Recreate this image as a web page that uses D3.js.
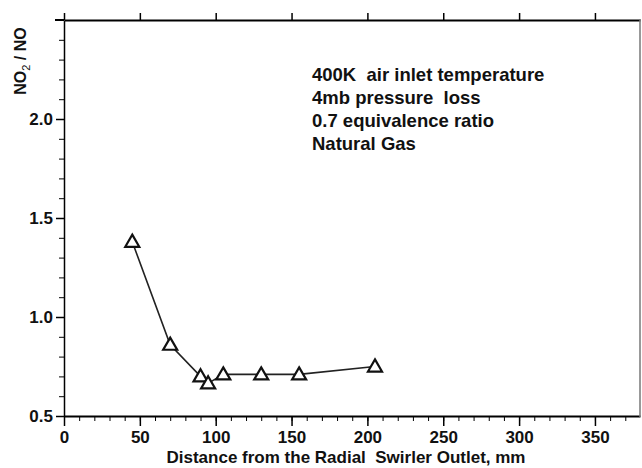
<!DOCTYPE html>
<html>
<head>
<meta charset="utf-8">
<script src="https://cdn.jsdelivr.net/npm/d3@7"></script>
<style>
  body { margin: 0; background: #fff; }
  text { font-family: "Liberation Sans", Arial, sans-serif; font-weight: bold; fill: #111; white-space: pre; }
</style>
</head>
<body>
<svg id="chart" width="642" height="468"></svg>
<script>
// distance from swirler outlet (mm) and NO2/NO ratio
var distance = [45, 70, 90, 95, 105, 130, 155, 205];
var ratio = [1.38, 0.86, 0.70, 0.665, 0.71, 0.71, 0.71, 0.75];
var xTicks = [0, 50, 100, 150, 200, 250, 300, 350];
var yTicks = [0.5, 1.0, 1.5, 2.0];
var notes = ["400K  air inlet temperature", "4mb pressure  loss", "0.7 equivalence ratio", "Natural Gas"];

var svg = d3.select("#chart");

var x = d3.scaleLinear().domain([0, 379.7]).range([64, 640]);
var y = d3.scaleLinear().domain([0.5, 2.5]).range([416, 20]);

// bottom axis, minor then major
svg.append("g")
    .attr("transform", "translate(0,416)")
    .call(d3.axisBottom(x).tickValues(d3.range(0, 380, 10)).tickSize(5).tickFormat(""))
    .call(function(g) { g.select(".domain").remove(); });

svg.append("g")
    .attr("transform", "translate(0,416)")
    .call(d3.axisBottom(x).tickValues(xTicks).tickSize(10).tickSizeOuter(0).tickPadding(5))
    .call(function(g) {
      g.select(".domain").attr("stroke-width", 2);
      g.selectAll("line").attr("stroke-width", 1.5);
      g.selectAll("text").style("font-size", "17px");
    });

// left axis
svg.append("g")
    .attr("transform", "translate(64,0)")
    .call(d3.axisLeft(y).tickValues(d3.range(0.6, 2.5, 0.1)).tickSize(5).tickFormat(""))
    .call(function(g) { g.select(".domain").remove(); });

svg.append("g")
    .attr("transform", "translate(64,0)")
    .call(d3.axisLeft(y).tickValues(yTicks).tickSize(8).tickSizeOuter(0).tickPadding(3).tickFormat(d3.format(".1f")))
    .call(function(g) {
      g.select(".domain").attr("stroke-width", 1.5);
      g.selectAll("line").attr("stroke-width", 1.5);
      g.selectAll("text").style("font-size", "17px");
    });

// top axis, ticks only
svg.append("g")
    .attr("transform", "translate(0,20)")
    .call(d3.axisTop(x).tickValues(xTicks).tickSize(7).tickSizeOuter(0).tickFormat(""))
    .call(function(g) {
      g.select(".domain").attr("stroke-width", 2);
      g.selectAll("line").attr("stroke-width", 1.5);
    });
svg.append("line").attr("x1", 55).attr("x2", 64).attr("y1", 20).attr("y2", 20)
    .attr("stroke", "#000").attr("stroke-width", 2);

// right frame
svg.append("line").attr("x1", 640).attr("x2", 640).attr("y1", 19).attr("y2", 417)
    .attr("stroke", "#777").attr("stroke-width", 1.5);

// data line
var line = d3.line().x(function(d, i) { return x(distance[i]); }).y(function(d) { return y(d); });
svg.append("path")
    .datum(ratio)
    .attr("d", line)
    .attr("fill", "none")
    .attr("stroke", "#222")
    .attr("stroke-width", 1.6);

var tri = d3.symbol().type(d3.symbolTriangle).size(85);
svg.selectAll(".pt")
    .data(ratio)
    .join("path")
    .attr("class", "pt")
    .attr("transform", function(d, i) { return "translate(" + x(distance[i]) + "," + (y(d) + 1) + ")"; })
    .attr("d", tri)
    .attr("fill", "#fff")
    .attr("stroke", "#111")
    .attr("stroke-width", 2.2);

// axis titles
svg.append("text")
    .attr("transform", "translate(26,61) rotate(-90)")
    .attr("text-anchor", "middle")
    .style("font-size", "16px")
    .text("NO")
    .append("tspan").attr("dy", 4).style("font-size", "11px").style("font-weight", "normal").text("2")
    .select(function() { return this.parentNode; })
    .append("tspan").attr("dy", -4).text(" / NO");

svg.append("text")
    .attr("x", 346)
    .attr("y", 463)
    .attr("text-anchor", "middle")
    .style("font-size", "17px")
    .text("Distance from the Radial  Swirler Outlet, mm");

// annotation
svg.selectAll(".note")
    .data(notes)
    .join("text")
    .attr("class", "note")
    .attr("x", 312)
    .attr("y", function(d, i) { return 81 + i * 23; })
    .style("font-size", "18.5px")
    .text(function(d) { return d; });
</script>
</body>
</html>
